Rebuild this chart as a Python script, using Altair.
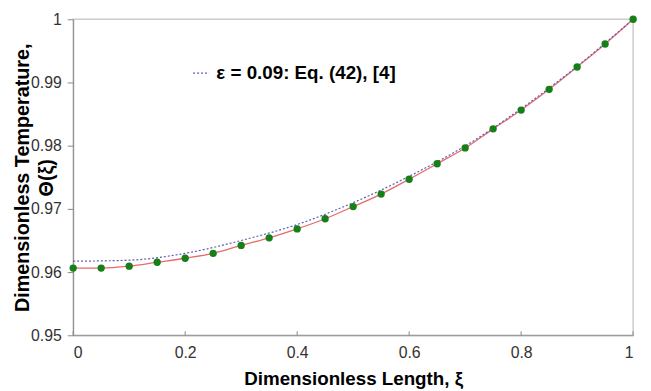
import altair as alt
import pandas as pd

# Numerical solution (points + solid red line)
xi_pts = [0.0, 0.05, 0.1, 0.15, 0.2, 0.25, 0.3, 0.35, 0.4, 0.45, 0.5,
          0.55, 0.6, 0.65, 0.7, 0.75, 0.8, 0.85, 0.9, 0.95, 1.0]
theta_pts = [0.96063, 0.96063, 0.96094, 0.96156, 0.96219, 0.96297, 0.96422,
             0.96542, 0.96683, 0.96844, 0.97036, 0.97234, 0.97469, 0.97714,
             0.97964, 0.98266, 0.98563, 0.98891, 0.99245, 0.99609, 1.0]

# Approximate solution, eps = 0.09 (dotted blue)
xi_eq = [0.0, 0.1, 0.2, 0.3, 0.4, 0.5, 0.6, 0.7, 0.8, 0.9, 1.0]
theta_eq = [0.96172, 0.96188, 0.96297, 0.96500, 0.96753, 0.97098, 0.97516,
            0.97995, 0.98586, 0.99256, 1.0]
eq_label = "ε = 0.09: Eq. (42), [4]"

x_ticks = [0, 0.2, 0.4, 0.6, 0.8, 1.0]
y_ticks = [0.95, 0.96, 0.97, 0.98, 0.99, 1.0]

df_pts = pd.DataFrame({"xi": xi_pts, "theta": theta_pts})
df_eq = pd.DataFrame({"xi": xi_eq, "theta": theta_eq, "series": [eq_label] * len(xi_eq)})
df_ticks = pd.DataFrame({"xi": x_ticks})

x_scale = alt.Scale(domain=[0, 1], nice=False, zero=False)
y_scale = alt.Scale(domain=[0.95, 1.0], nice=False, zero=False)

x_axis = alt.Axis(values=x_ticks, format=".1~f", title="Dimensionless Length, ξ",
                  grid=False, ticks=False, tickSize=0, labelPadding=10,
                  labelFontSize=16, labelColor="#333333", domainColor="#888888",
                  titleFontSize=19, titleFontWeight="bold", titleColor="#000000",
                  titleBaseline="top", titleY=35)
y_axis = alt.Axis(values=y_ticks, format=".2~f",
                  title=["Dimensionless Temperature,", "Θ(ξ)"],
                  grid=False, tickSize=6, tickColor="#888888", labelPadding=6,
                  labelFontSize=16, labelColor="#333333", domainColor="#888888",
                  titleFontSize=20, titleFontWeight="bold", titleColor="#000000",
                  titleLineHeight=24, titleX=-41, titleY=160)

red = alt.Chart(df_pts).mark_line(color="#e86a6a", strokeWidth=1.3, interpolate="monotone").encode(
    x=alt.X("xi:Q", scale=x_scale, axis=x_axis),
    y=alt.Y("theta:Q", scale=y_scale, axis=y_axis),
)

dotted = alt.Chart(df_eq).mark_line(strokeWidth=1.2, strokeDash=[2, 2], interpolate="monotone").encode(
    x=alt.X("xi:Q", scale=x_scale),
    y=alt.Y("theta:Q", scale=y_scale),
    color=alt.Color("series:N", scale=alt.Scale(range=["#5c5cb0"]),
                    legend=alt.Legend(title=None, orient="none", legendX=120, legendY=45,
                                      symbolType="stroke", symbolStrokeWidth=1.2,
                                      symbolDash=[2, 2], symbolSize=260,
                                      labelFontSize=19, labelFontWeight="bold",
                                      labelLimit=500,
                                      labelColor="#000000", padding=0, labelOffset=6)),
)

dots = alt.Chart(df_pts).mark_circle(color="#177f17", size=55, opacity=1).encode(
    x=alt.X("xi:Q", scale=x_scale),
    y=alt.Y("theta:Q", scale=y_scale),
)

ticks = alt.Chart(df_ticks).mark_rule(color="#888888", strokeWidth=1).encode(
    x=alt.X("xi:Q", scale=x_scale),
    y=alt.value(316),
    y2=alt.value(320),
)

chart = alt.layer(ticks, red, dotted, dots).properties(
    width=567, height=320,
    autosize=alt.AutoSizeParams(type="none"),
    padding={"left": 66, "top": 9, "right": 10, "bottom": 54},
).configure(font="Liberation Sans").configure_view(stroke="#cccccc", strokeWidth=1.5)

chart.save("out.html", embed_options={"renderer": "svg", "actions": False})
